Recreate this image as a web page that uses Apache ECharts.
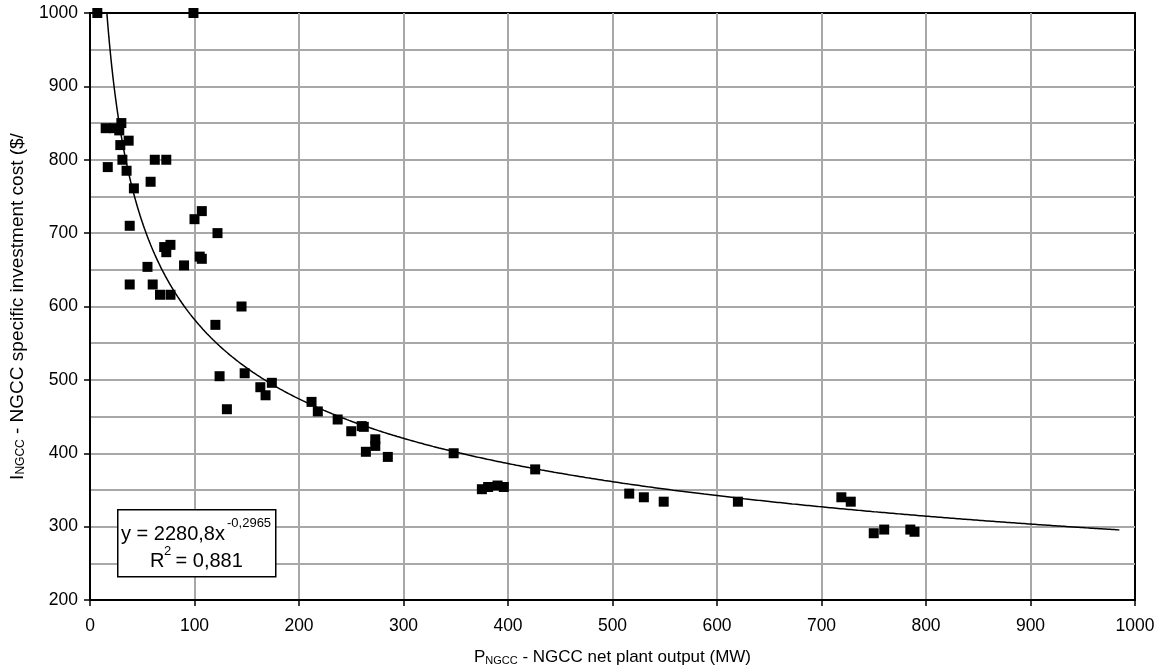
<!DOCTYPE html>
<html>
  <head>
    <meta charset="utf-8" />
    <script src="https://cdn.jsdelivr.net/npm/echarts@6.0.0/dist/echarts.min.js"></script>
    <style>
      html, body { margin: 0; padding: 0; background: #fff; }
    </style>
  </head>
  <body>
    <div id="main" style="width: 1162px;height:671px;"></div>
    <script type="text/javascript">
      // plant output (MW) and specific investment cost
      var plantOutput = [7, 99, 15, 23, 30, 28, 29, 37, 17, 31, 35, 42, 58, 62, 73,
        38, 38, 55, 60, 67, 77, 71, 73, 77, 90, 100, 107, 105, 107, 122,
        145, 120, 124, 148, 131, 163, 168, 174, 212, 218, 237, 250, 260, 262,
        273, 273, 264, 285, 348, 375, 381, 390, 396, 426, 516, 530, 549, 620,
        719, 728, 750, 760, 785, 789];
      var investCost = [1000, 1000, 843, 843, 850, 840, 820, 826, 790, 800, 785, 761, 770, 800, 800,
        710, 630, 654, 630, 616, 616, 681, 674, 684, 656, 719, 730, 668, 665, 700,
        600, 575, 505, 509, 460, 490, 479, 496, 470, 457, 446, 430, 437, 436,
        419, 410, 402, 395, 400, 351, 354, 356, 354, 378, 345, 340, 334, 334,
        340, 334, 291, 296, 296, 293];

      // power trendline shown on the chart: y = 2280,8 x^-0,2965
      var trendA = 2280.8;
      var trendB = -0.2965;
      var trendFrom = 8;
      var trendTo = 985;

      var xTicks = { min: 0, max: 1000, interval: 100 };
      var yTicks = { min: 200, max: 1000, interval: 100 };

      var points = plantOutput.map(function (x, i) { return [x, investCost[i]]; });
      var trend = [];
      for (var x = trendFrom; x <= trendTo; x += 1) {
        trend.push([x, trendA * Math.pow(x, trendB)]);
      }

      var font = 'Liberation Sans, Arial, sans-serif';
      var plain = function (v) { return String(v); };
      var myChart = echarts.init(document.getElementById('main'));

      var option = {
        animation: false,
        backgroundColor: '#fff',
        textStyle: { fontFamily: font },
        grid: {
          left: 89, right: 27, top: 13, bottom: 71,
          show: true, borderColor: '#000', borderWidth: 2, backgroundColor: 'transparent'
        },
        xAxis: {
          type: 'value',
          min: xTicks.min, max: xTicks.max, interval: xTicks.interval,
          axisLine: { onZero: false, lineStyle: { color: '#000', width: 2 } },
          axisTick: { show: true, length: 6, lineStyle: { color: '#000', width: 1.5 } },
          axisLabel: { color: '#000', fontSize: 17.5, fontFamily: font, margin: 17, formatter: plain },
          splitLine: { show: true, showMinLine: false, showMaxLine: false, lineStyle: { color: '#a8a8a8', width: 2 } },
          name: '{m|P}{s|NGCC}{m| - NGCC net plant output (MW)}',
          nameLocation: 'middle',
          nameGap: 49,
          nameTextStyle: {
            color: '#000',
            rich: {
              m: { fontSize: 17, fontFamily: font, color: '#000', verticalAlign: 'bottom' },
              s: { fontSize: 11, fontFamily: font, color: '#000', verticalAlign: 'bottom' }
            }
          }
        },
        yAxis: {
          type: 'value',
          min: yTicks.min, max: yTicks.max, interval: yTicks.interval,
          axisLine: { show: true, onZero: false, lineStyle: { color: '#000', width: 2 } },
          axisTick: { show: true, length: 6, lineStyle: { color: '#000', width: 1.5 } },
          axisLabel: { color: '#000', fontSize: 17.5, fontFamily: font, margin: 12, formatter: plain },
          splitLine: { show: true, showMinLine: false, showMaxLine: false, lineStyle: { color: '#a8a8a8', width: 2 } },
          minorTick: { show: false, splitNumber: 2 },
          minorSplitLine: { show: true, lineStyle: { color: '#a8a8a8', width: 2 } },
          name: '{m|I}{s|NGCC}{m| - NGCC specific investment cost ($/}',
          nameLocation: 'middle',
          nameRotate: 90,
          nameGap: 63,
          nameTextStyle: {
            color: '#000',
            rich: {
              m: { fontSize: 19, fontFamily: font, color: '#000', verticalAlign: 'bottom' },
              s: { fontSize: 12, fontFamily: font, color: '#000', verticalAlign: 'bottom' }
            }
          }
        },
        series: [
          {
            type: 'line',
            data: trend,
            showSymbol: false,
            clip: true,
            lineStyle: { color: '#000', width: 1.5 },
            z: 3
          },
          {
            type: 'scatter',
            data: points,
            symbol: 'rect',
            symbolSize: 10,
            itemStyle: { color: '#000', opacity: 1 },
            z: 4
          }
        ],
        graphic: [
          {
            type: 'rect',
            left: 117, top: 509,
            shape: { width: 158, height: 67 },
            style: { fill: '#fff', stroke: '#000', lineWidth: 1.5 },
            z: 10
          },
          { type: 'text', x: 121, y: 534, z: 11,
            style: { text: 'y = 2280,8x', font: '20px ' + font, fill: '#000', verticalAlign: 'middle' } },
          { type: 'text', x: 227, y: 523, z: 11,
            style: { text: '-0,2965', font: '13px ' + font, fill: '#000', verticalAlign: 'middle' } },
          { type: 'text', x: 150, y: 561, z: 11,
            style: { text: 'R', font: '20px ' + font, fill: '#000', verticalAlign: 'middle' } },
          { type: 'text', x: 164, y: 551, z: 11,
            style: { text: '2', font: '13px ' + font, fill: '#000', verticalAlign: 'middle' } },
          { type: 'text', x: 170, y: 561, z: 11,
            style: { text: ' = 0,881', font: '20px ' + font, fill: '#000', verticalAlign: 'middle' } }
        ]
      };

      myChart.setOption(option);
    </script>
  </body>
</html>
